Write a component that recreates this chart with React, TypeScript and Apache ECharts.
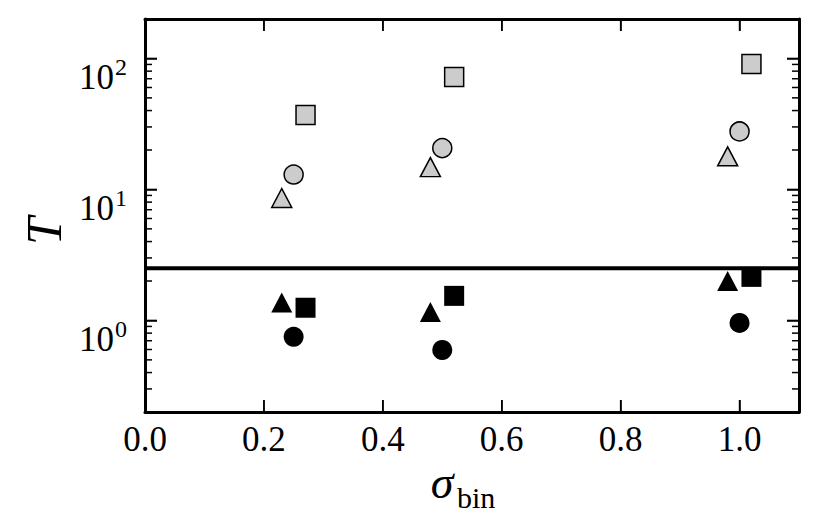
import React, { useEffect, useRef } from "react";
import * as echarts from "echarts";

// ---- data ----
const triX = [0.23, 0.48, 0.98];
const circX = [0.25, 0.5, 1.0];
const sqX = [0.27, 0.52, 1.02];

const grayTriY = [8.6, 14.8, 17.9];
const grayCircY = [13.0, 20.7, 27.7];
const graySqY = [37.0, 72.2, 90.8];

const blackTriY = [1.37, 1.16, 2.0];
const blackCircY = [0.75, 0.595, 0.957];
const blackSqY = [1.25, 1.54, 2.15];

const threshold = 2.5;

const xMajorTicks = [0.2, 0.4, 0.6, 0.8, 1.0];
const yMajorTicks = [1, 10, 100];
const yTickExponents = ["0", "1", "2"];
const yMinorTicks = [
  0.3, 0.4, 0.5, 0.6, 0.7, 0.8, 0.9,
  2, 3, 4, 5, 6, 7, 8, 9,
  20, 30, 40, 50, 60, 70, 80, 90,
];

const X_MIN = 0;
const X_MAX = 1.1;
const Y_MIN = 0.2;
const Y_MAX = 200;

const SERIF = "'Liberation Serif', 'DejaVu Serif', serif";
const GRAY = "#cccccc";

function pts(xs: number[], ys: number[]) {
  return xs.map((x, i) => [x, ys[i]]);
}

const mkLine = () => ({ show: true, onZero: false, lineStyle: { color: "#000", width: 3 } });
const mkTick = () => ({
  show: true,
  inside: true,
  length: 12,
  lineStyle: { color: "#000", width: 1.5 },
});

export default function App() {
  const ref = useRef<HTMLDivElement>(null);

  useEffect(() => {
    if (!ref.current) return;
    const chart = echarts.init(ref.current, undefined, { renderer: "svg" });

    const scatter = (
      name: string,
      symbol: string,
      size: number | number[],
      data: number[][],
      fill: string
    ) => ({
      type: "scatter",
      name,
      symbol,
      symbolSize: size,
      data,
      xAxisIndex: 0,
      yAxisIndex: 0,
      z: 3,
      itemStyle: {
        color: fill,
        borderColor: "#000",
        borderWidth: fill === "#000" ? 0 : 1.5,
        opacity: 1,
      },
      emphasis: { disabled: true },
    });

    const titleTexts = [
      {
        type: "text",
        x: 44,
        y: 231,
        rotation: Math.PI / 2,
        style: {
          text: "T",
          align: "center",
          verticalAlign: "middle",
          fontFamily: SERIF,
          fontStyle: "italic",
          fontSize: 50,
          fill: "#000",
        },
      },
      {
        type: "text",
        x: 442,
        y: 482,
        style: {
          text: "σ",
          align: "center",
          verticalAlign: "middle",
          fontFamily: SERIF,
          fontStyle: "italic",
          fontSize: 46,
          fill: "#000",
        },
      },
      {
        type: "text",
        x: 457,
        y: 497,
        style: {
          text: "bin",
          align: "left",
          verticalAlign: "middle",
          fontFamily: SERIF,
          fontSize: 30,
          fill: "#000",
        },
      },
    ];

    const option: any = {
      animation: false,
      grid: { left: 145, top: 19, width: 654, height: 393, containLabel: false },
      graphic: titleTexts,
      xAxis: [
        {
          type: "value",
          min: X_MIN,
          max: X_MAX,
          interval: 0.2,
          position: "bottom",
          axisLine: mkLine(),
          axisTick: mkTick(),
          splitLine: { show: false },
          axisLabel: {
            show: true,
            margin: 10,
            color: "#000",
            fontFamily: SERIF,
            fontSize: 35,
            showMaxLabel: false,
            formatter: (v: number) => (v > 1.05 ? "" : v.toFixed(1)),
          },
        },
        {
          type: "value",
          min: X_MIN,
          max: X_MAX,
          interval: 0.2,
          position: "top",
          axisLine: mkLine(),
          axisTick: mkTick(),
          splitLine: { show: false },
          axisLabel: { show: false },
        },
      ],
      yAxis: [
        {
          type: "log",
          logBase: 10,
          min: Y_MIN,
          max: Y_MAX,
          position: "left",
          axisLine: mkLine(),
          axisTick: mkTick(),
          splitLine: { show: false },
          axisLabel: { show: false },
        },
        {
          type: "log",
          logBase: 10,
          min: Y_MIN,
          max: Y_MAX,
          position: "right",
          axisLine: mkLine(),
          axisTick: mkTick(),
          splitLine: { show: false },
          axisLabel: { show: false },
        },
      ],
      series: [
        {
          type: "line",
          name: "threshold",
          data: [
            [X_MIN, threshold],
            [X_MAX, threshold],
          ],
          symbol: "none",
          silent: true,
          z: 6,
          lineStyle: { color: "#000", width: 4, type: "solid" },
          emphasis: { disabled: true },
        },
        scatter("gray-sq", "rect", 19, pts(sqX, graySqY), GRAY),
        scatter("gray-circ", "circle", 19, pts(circX, grayCircY), GRAY),
        scatter("gray-tri", "triangle", [20, 19], pts(triX, grayTriY), GRAY),
        scatter("black-sq", "rect", 20, pts(sqX, blackSqY), "#000"),
        scatter("black-circ", "circle", 20, pts(circX, blackCircY), "#000"),
        scatter("black-tri", "triangle", [21, 20], pts(triX, blackTriY), "#000"),
      ],
    };

    chart.setOption(option);

    // ticks and 10^n labels placed through the chart's own scales
    const px = (x: number, y: number) =>
      chart.convertToPixel({ gridIndex: 0 }, [x, y]) as number[];
    const tickStyle = { stroke: "#000", lineWidth: 1.5 };
    const extra: any[] = [];
    yMajorTicks.forEach((v, i) => {
      const [xl, y0] = px(X_MIN, v);
      const [xr] = px(X_MAX, v);
      extra.push({ type: "line", z: 100, shape: { x1: xl, y1: y0, x2: xl + 12, y2: y0 }, style: tickStyle });
      extra.push({ type: "line", z: 100, shape: { x1: xr, y1: y0, x2: xr - 12, y2: y0 }, style: tickStyle });
      extra.push({
        type: "text",
        z: 100,
        x: xl - 31,
        y: y0 + 19,
        style: {
          text: "10",
          align: "right",
          verticalAlign: "middle",
          fontFamily: SERIF,
          fontSize: 35,
          fill: "#000",
        },
      });
      extra.push({
        type: "text",
        z: 100,
        x: xl - 30,
        y: y0 + 9,
        style: {
          text: yTickExponents[i],
          align: "left",
          verticalAlign: "middle",
          fontFamily: SERIF,
          fontSize: 24,
          fill: "#000",
        },
      });
    });
    yMinorTicks.forEach((v) => {
      const [xl, y0] = px(X_MIN, v);
      const [xr] = px(X_MAX, v);
      extra.push({ type: "line", z: 100, shape: { x1: xl, y1: y0, x2: xl + 7, y2: y0 }, style: tickStyle });
      extra.push({ type: "line", z: 100, shape: { x1: xr, y1: y0, x2: xr - 7, y2: y0 }, style: tickStyle });
    });
    xMajorTicks.forEach((v) => {
      const [x0, yt] = px(v, Y_MAX);
      const [, yb] = px(v, Y_MIN);
      extra.push({ type: "line", z: 100, shape: { x1: x0, y1: yt, x2: x0, y2: yt + 12 }, style: tickStyle });
      extra.push({ type: "line", z: 100, shape: { x1: x0, y1: yb, x2: x0, y2: yb - 12 }, style: tickStyle });
    });
    chart.setOption({ graphic: [...titleTexts, ...extra] });

    return () => chart.dispose();
  }, []);

  return (
    <div
      ref={ref}
      style={{ position: "fixed", left: 0, top: 0, width: 829, height: 525, background: "#fff" }}
    />
  );
}
